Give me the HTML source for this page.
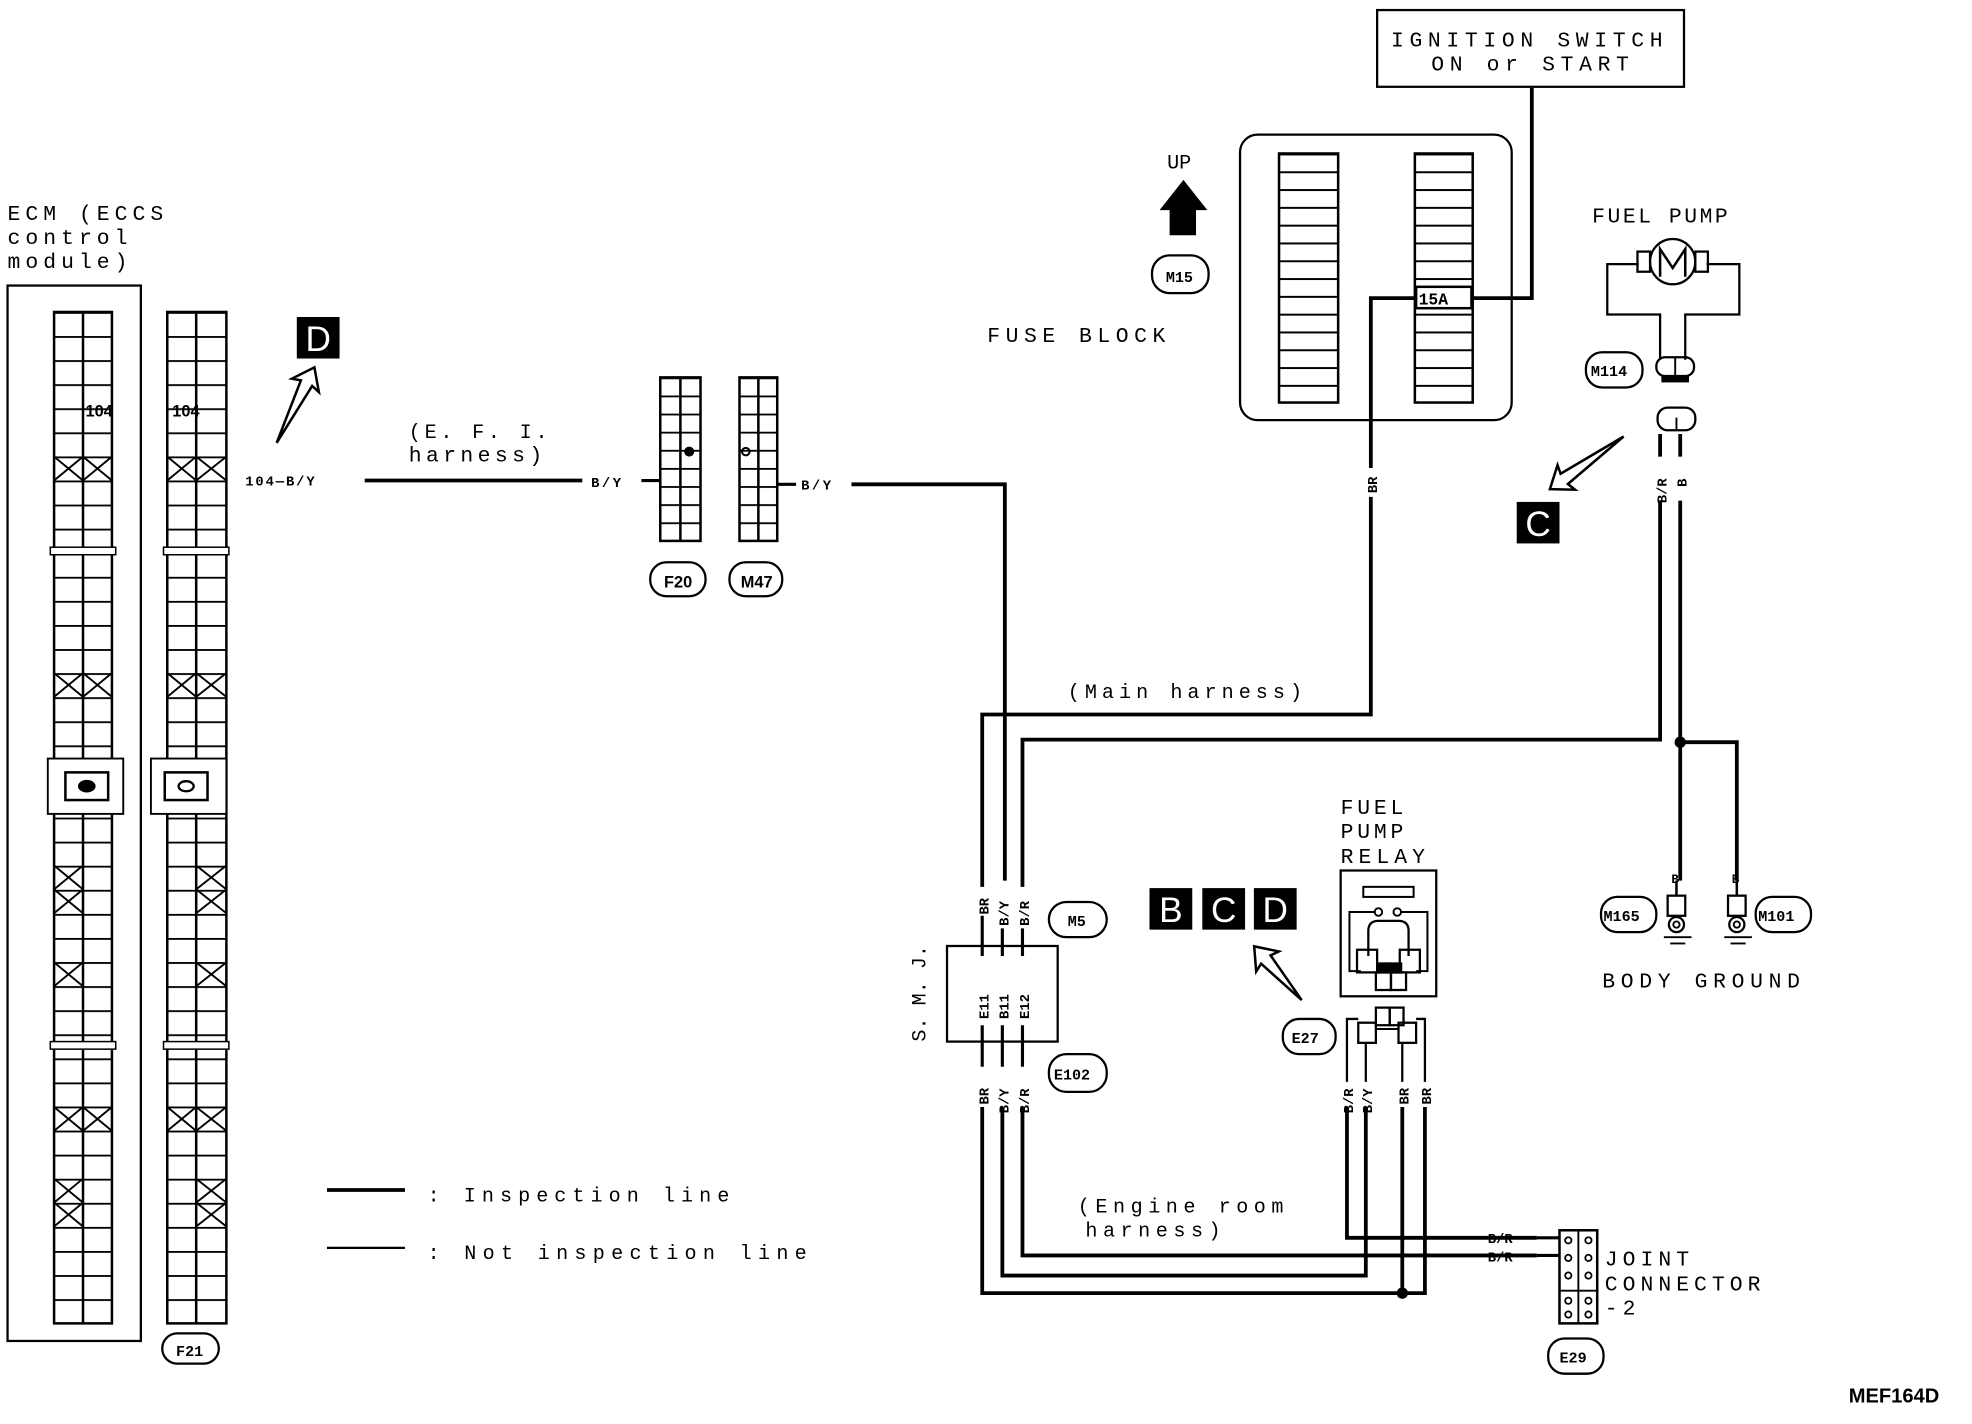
<!DOCTYPE html>
<html><head><meta charset="utf-8"><style>
html,body{margin:0;padding:0;background:#fff;}
svg{display:block;}
text{font-family:"Liberation Mono",monospace;fill:#000;}
</style></head><body>
<svg width="1972" height="1424" viewBox="0 0 1568 1132" preserveAspectRatio="none" xmlns="http://www.w3.org/2000/svg">
<defs>
<pattern id="r1" x="0" y="248" width="200" height="19.14" patternUnits="userSpaceOnUse"><line x1="0" y1="0.7" x2="200" y2="0.7" stroke="#000" stroke-width="1.5"/></pattern>
<pattern id="rf" x="0" y="300" width="100" height="14.4" patternUnits="userSpaceOnUse"><line x1="0" y1="0.7" x2="100" y2="0.7" stroke="#000" stroke-width="1.5"/></pattern>
<pattern id="fz" x="0" y="122" width="100" height="14.15" patternUnits="userSpaceOnUse"><line x1="0" y1="0.8" x2="100" y2="0.8" stroke="#000" stroke-width="1.6"/></pattern>
</defs>
<rect width="1568" height="1132" fill="#fff"/>
<g fill="none" stroke="#000">
<!-- ECM -->
<rect x="6" y="227" width="106" height="839" stroke-width="1.8"/>
<rect x="43" y="248" width="46" height="804" fill="url(#r1)" stroke-width="2"/>
<line x1="66" y1="248" x2="66" y2="1052" stroke-width="2"/>
<rect x="133" y="248" width="47" height="804" fill="url(#r1)" stroke-width="2"/>
<line x1="156" y1="248" x2="156" y2="1052" stroke-width="2"/>
<g stroke-width="1.5">
<path d="M43 363L66 382M66 363L43 382M66 363L89 382M89 363L66 382"/>
<path d="M43 535L66 554M66 535L43 554M66 535L89 554M89 535L66 554"/>
<path d="M43 688L66 707M66 688L43 707M43 707L66 726M66 707L43 726"/>
<path d="M43 765L66 784M66 765L43 784"/>
<path d="M43 880L66 899M66 880L43 899M66 880L89 899M89 880L66 899"/>
<path d="M43 937L66 956M66 937L43 956M43 956L66 975M66 956L43 975"/>
<path d="M133 363L156 382M156 363L133 382M156 363L180 382M180 363L156 382"/>
<path d="M133 535L156 554M156 535L133 554M156 535L180 554M180 535L156 554"/>
<path d="M156 688L180 707M180 688L156 707M156 707L180 726M180 707L156 726"/>
<path d="M156 765L180 784M180 765L156 784"/>
<path d="M133 880L156 899M156 880L133 899M156 880L180 899M180 880L156 899"/>
<path d="M156 937L180 956M180 937L156 956M156 956L180 975M180 956L156 975"/>
</g>
<rect x="40" y="435" width="52" height="6" fill="#fff" stroke-width="1.2"/>
<rect x="130" y="435" width="52" height="6" fill="#fff" stroke-width="1.2"/>
<rect x="40" y="828" width="52" height="6" fill="#fff" stroke-width="1.2"/>
<rect x="130" y="828" width="52" height="6" fill="#fff" stroke-width="1.2"/>
<rect x="38" y="603" width="60" height="44" fill="#fff" stroke-width="1.5"/>
<rect x="52" y="614" width="34" height="22" stroke-width="2"/>
<rect x="120" y="603" width="60" height="44" fill="#fff" stroke-width="1.5"/>
<rect x="131" y="614" width="34" height="22" stroke-width="2"/>
<ellipse cx="148" cy="625" rx="6" ry="4" stroke-width="1.8"/>
<rect x="129" y="1060" width="45" height="24" rx="12" stroke-width="1.8"/>

<!-- F20 / M47 -->
<rect x="525" y="300" width="32" height="130" fill="url(#rf)" stroke-width="2"/>
<line x1="541" y1="300" x2="541" y2="430" stroke-width="2"/>
<rect x="588" y="300" width="30" height="130" fill="url(#rf)" stroke-width="2"/>
<line x1="603" y1="300" x2="603" y2="430" stroke-width="2"/>
<rect x="517" y="447" width="44" height="27" rx="13" stroke-width="1.8"/>
<rect x="580" y="447" width="42" height="27" rx="13" stroke-width="1.8"/>
<circle cx="593" cy="359" r="3" stroke-width="1.6"/>

<!-- wires thick -->
<g stroke-width="3">
<line x1="290" y1="382" x2="463" y2="382"/>
<polyline points="677,385 799,385 799,700"/>
<polyline points="1218,70 1218,237 1171,237"/>
<polyline points="1125,237 1090,237 1090,372"/>
<polyline points="1090,395 1090,568 781,568 781,705"/>
<polyline points="1320,398 1320,588 813,588 813,705"/>
<polyline points="1336,398 1336,700"/>
<polyline points="1336,590 1381,590 1381,700"/>
<polyline points="781,880 781,1028 1133,1028 1133,880"/>
<polyline points="797,880 797,1014 1086,1014 1086,880"/>
<polyline points="813,880 813,998 1222,998"/>
<polyline points="1071,880 1071,984 1222,984"/>
<line x1="1115" y1="880" x2="1115" y2="1028"/>
<line x1="1320" y1="345" x2="1320" y2="363"/>
<line x1="1336" y1="345" x2="1336" y2="363"/>
<line x1="260" y1="946" x2="322" y2="946"/>
</g>
<line x1="260" y1="992" x2="322" y2="992" stroke-width="1.8"/>
<line x1="510" y1="382" x2="525" y2="382" stroke-width="2.5"/>
<line x1="618" y1="385" x2="633" y2="385" stroke-width="2.5"/>
<!-- SMJ -->
<rect x="753" y="752" width="88" height="76" stroke-width="1.8"/>
<g stroke-width="2.5">
<line x1="781" y1="728" x2="781" y2="760"/><line x1="797" y1="738" x2="797" y2="760"/><line x1="813" y1="738" x2="813" y2="760"/>
<line x1="781" y1="815" x2="781" y2="848"/><line x1="797" y1="815" x2="797" y2="848"/><line x1="813" y1="815" x2="813" y2="848"/>
</g>
<rect x="834" y="717" width="46" height="28" rx="14" stroke-width="1.8"/>
<rect x="834" y="838" width="46" height="30" rx="14" stroke-width="1.8"/>

<!-- Fuse block -->
<rect x="986" y="107" width="216" height="227" rx="14" stroke-width="1.8"/>
<rect x="1017" y="122" width="47" height="198" fill="url(#fz)" stroke-width="2"/>
<rect x="1125" y="122" width="46" height="198" fill="url(#fz)" stroke-width="2"/>
<rect x="1095" y="8" width="244" height="61" stroke-width="1.8"/>
<rect x="916" y="203" width="45" height="30" rx="14" stroke-width="1.8"/>

<!-- fuel pump -->
<path d="M1303 210H1278V250H1320V286" stroke-width="1.8"/>
<path d="M1357 210H1383V250H1340V286" stroke-width="1.8"/>
<rect x="1302" y="200" width="10" height="16" stroke-width="1.8"/>
<rect x="1348" y="200" width="10" height="16" stroke-width="1.8"/>
<circle cx="1330" cy="208" r="18" stroke-width="1.8"/>
<path d="M1320 220V198L1330 213L1340 198V220" stroke-width="2"/>
<rect x="1317" y="284" width="30" height="15" rx="7" stroke-width="1.8"/>
<line x1="1332" y1="284" x2="1332" y2="299" stroke-width="1.5"/>
<rect x="1318" y="324" width="30" height="18" rx="8" stroke-width="1.8"/>
<line x1="1333" y1="332" x2="1333" y2="342" stroke-width="1.5"/>
<rect x="1261" y="280" width="45" height="28" rx="13" stroke-width="1.8"/>

<!-- ground -->
<rect x="1326" y="712" width="14" height="16" stroke-width="1.8"/>
<circle cx="1333" cy="735" r="6" stroke-width="1.8"/><circle cx="1333" cy="735" r="2.5" stroke-width="1.5"/>
<line x1="1333" y1="700" x2="1333" y2="712" stroke-width="2"/>
<line x1="1323" y1="745" x2="1345" y2="745" stroke-width="1.5"/><line x1="1328" y1="750" x2="1340" y2="750" stroke-width="1.5"/>
<rect x="1374" y="712" width="14" height="16" stroke-width="1.8"/>
<circle cx="1381" cy="735" r="6" stroke-width="1.8"/><circle cx="1381" cy="735" r="2.5" stroke-width="1.5"/>
<line x1="1381" y1="700" x2="1381" y2="712" stroke-width="2"/>
<line x1="1371" y1="745" x2="1393" y2="745" stroke-width="1.5"/><line x1="1376" y1="750" x2="1388" y2="750" stroke-width="1.5"/>
<rect x="1273" y="713" width="44" height="28" rx="13" stroke-width="1.8"/>
<rect x="1396" y="713" width="44" height="28" rx="13" stroke-width="1.8"/>

<!-- relay -->
<rect x="1066" y="692" width="76" height="100" stroke-width="1.8"/>
<rect x="1084" y="705" width="40" height="8" stroke-width="1.6"/>
<path d="M1094 725H1073V772H1082 M1114 725H1135V772H1126" stroke-width="1.6"/>
<circle cx="1096" cy="725" r="3" stroke-width="1.5"/><circle cx="1111" cy="725" r="3" stroke-width="1.5"/>
<path d="M1088 760V740Q1088 732 1096 732H1112Q1120 732 1120 740V760" stroke-width="1.8"/>
<rect x="1079" y="755" width="16" height="18" stroke-width="1.8"/>
<rect x="1113" y="755" width="16" height="18" stroke-width="1.8"/>
<rect x="1094" y="773" width="12" height="14" stroke-width="1.8"/><rect x="1106" y="773" width="12" height="14" stroke-width="1.8"/>
<path d="M1071 860V810H1080 M1133 860V810H1126 M1086 860V829 M1115 860V829" stroke-width="1.8"/>
<rect x="1094" y="801" width="11" height="14" stroke-width="1.8"/><rect x="1105" y="801" width="11" height="14" stroke-width="1.8"/>
<rect x="1080" y="813" width="14" height="16" stroke-width="1.8"/><rect x="1112" y="813" width="14" height="16" stroke-width="1.8"/>
<path d="M1094 818H1112" stroke-width="1.6"/>
<rect x="1020" y="810" width="42" height="28" rx="13" stroke-width="1.8"/>

<!-- joint connector -->
<rect x="1240" y="978" width="30" height="74" stroke-width="2"/>
<line x1="1255" y1="978" x2="1255" y2="1052" stroke-width="1.5"/>
<line x1="1240" y1="1026" x2="1270" y2="1026" stroke-width="1.5"/>
<g stroke-width="1.4">
<circle cx="1247" cy="986" r="2.5"/><circle cx="1263" cy="986" r="2.5"/>
<circle cx="1247" cy="1000" r="2.5"/><circle cx="1263" cy="1000" r="2.5"/>
<circle cx="1247" cy="1014" r="2.5"/><circle cx="1263" cy="1014" r="2.5"/>
<circle cx="1247" cy="1034" r="2.5"/><circle cx="1263" cy="1034" r="2.5"/>
<circle cx="1247" cy="1045" r="2.5"/><circle cx="1263" cy="1045" r="2.5"/>
</g>
<rect x="1231" y="1064" width="44" height="28" rx="13" stroke-width="1.8"/>
<g stroke-width="2.5"><line x1="1222" y1="984" x2="1240" y2="984"/><line x1="1222" y1="998" x2="1240" y2="998"/></g>

<!-- hollow arrows -->
<path d="M0 0L53 -5L51 -12L67 0L51 12L53 5Z" stroke-width="2" transform="translate(220,352) rotate(-63.4)"/>
<path d="M0 0L58 -5L56 -12L72 0L56 12L58 5Z" stroke-width="2" transform="translate(1291,347) rotate(144.5)"/>
<path d="M0 0L43 -5L41 -12L57 0L41 12L43 5Z" stroke-width="2" transform="translate(1035,795) rotate(-131.5)"/>
</g>

<!-- fills -->
<circle cx="548" cy="359" r="4" fill="#000"/>
<ellipse cx="69" cy="625" rx="7" ry="5" fill="#000"/>
<rect x="1321" y="298" width="22" height="6" fill="#000"/>
<rect x="1095" y="765" width="20" height="9" fill="#000"/>
<circle cx="1336" cy="590" r="4.5" fill="#000"/>
<circle cx="1115" cy="1028" r="4.5" fill="#000"/>
<path d="M941 143L960 167H951V187H930V167H922Z" fill="#000"/>
<rect x="1126" y="228" width="44" height="17" fill="#fff" stroke="#000" stroke-width="2"/>

<!-- black badge letters -->
<rect x="236" y="252" width="34" height="33" fill="#000"/>
<text x="253" y="279" font-size="28" text-anchor="middle" style="fill:#fff;font-family:'Liberation Sans',sans-serif">D</text>
<rect x="1206" y="399" width="34" height="33" fill="#000"/>
<text x="1223" y="426" font-size="28" text-anchor="middle" style="fill:#fff;font-family:'Liberation Sans',sans-serif">C</text>
<rect x="914" y="706" width="34" height="33" fill="#000"/><text x="931" y="733" font-size="28" text-anchor="middle" style="fill:#fff;font-family:'Liberation Sans',sans-serif">B</text>
<rect x="956" y="706" width="34" height="33" fill="#000"/><text x="973" y="733" font-size="28" text-anchor="middle" style="fill:#fff;font-family:'Liberation Sans',sans-serif">C</text>
<rect x="997" y="706" width="34" height="33" fill="#000"/><text x="1014" y="733" font-size="28" text-anchor="middle" style="fill:#fff;font-family:'Liberation Sans',sans-serif">D</text>

<!-- texts -->
<g font-size="17">
<text x="6" y="175" letter-spacing="4">ECM (ECCS</text>
<text x="6" y="194" letter-spacing="4">control</text>
<text x="6" y="213" letter-spacing="4">module)</text>
<text x="325" y="348" font-size="16" letter-spacing="3">(E. F. I.</text>
<text x="325" y="367" letter-spacing="3.5">harness)</text>
<text x="785" y="272" letter-spacing="4.4">FUSE BLOCK</text>
<text x="928" y="134" font-size="16">UP</text>
<text x="1106" y="37" letter-spacing="4.5">IGNITION SWITCH</text>
<text x="1138" y="56" letter-spacing="4.5">ON or START</text>
<text x="1266" y="177" letter-spacing="2">FUEL PUMP</text>
<text x="849" y="555" font-size="16" letter-spacing="4">(Main harness)</text>
<text x="1066" y="647" letter-spacing="3">FUEL</text>
<text x="1066" y="666" letter-spacing="3">PUMP</text>
<text x="1066" y="686" letter-spacing="4">RELAY</text>
<text x="1274" y="785" letter-spacing="4.5">BODY GROUND</text>
<text x="857" y="964" font-size="16" letter-spacing="4.4">(Engine room</text>
<text x="863" y="983" font-size="16" letter-spacing="4.4">harness)</text>
<text x="1276" y="1006" letter-spacing="4">JOINT</text>
<text x="1276" y="1026" letter-spacing="4">CONNECTOR</text>
<text x="1276" y="1045" letter-spacing="4">-2</text>
<text x="340" y="955" font-size="16" letter-spacing="4.8">: Inspection line</text>
<text x="340" y="1001" font-size="16" letter-spacing="5">: Not inspection line</text>
<text x="1470" y="1115" font-size="16" font-weight="bold" style="font-family:'Liberation Sans',sans-serif">MEF164D</text>
</g>
<g font-size="11" font-weight="bold">
<text x="195" y="386" letter-spacing="1.5">104—B/Y</text>
<text x="470" y="387" letter-spacing="2">B/Y</text>
<text x="637" y="389" letter-spacing="2">B/Y</text>
<text x="1183" y="988">B/R</text>
<text x="1183" y="1003">B/R</text>
<text x="68" y="331" font-size="13" style="font-family:'Liberation Sans Narrow','Liberation Sans',sans-serif">104</text>
<text x="137" y="331" font-size="13" style="font-family:'Liberation Sans Narrow','Liberation Sans',sans-serif">104</text>
<text x="1128" y="242" font-size="13">15A</text>
<text x="528" y="467" font-size="13" style="font-family:'Liberation Sans Narrow','Liberation Sans',sans-serif">F20</text>
<text x="589" y="467" font-size="13" style="font-family:'Liberation Sans Narrow','Liberation Sans',sans-serif">M47</text>
<text x="140" y="1078" font-size="12">F21</text>
<text x="927" y="224" font-size="12">M15</text>
<text x="1265" y="299" font-size="12">M114</text>
<text x="1275" y="732" font-size="12">M165</text>
<text x="1398" y="732" font-size="12">M101</text>
<text x="849" y="736" font-size="12">M5</text>
<text x="838" y="858" font-size="12">E102</text>
<text x="1027" y="829" font-size="12">E27</text>
<text x="1240" y="1083" font-size="12">E29</text>
<text x="1329" y="702" font-size="10">B</text>
<text x="1377" y="702" font-size="10">B</text>
</g>
<g font-size="11" font-weight="bold">
<text transform="translate(1095,392) rotate(-90)">BR</text>
<text transform="translate(1325,400) rotate(-90)">B/R</text>
<text transform="translate(1341,387) rotate(-90)">B</text>
<text transform="translate(786,727) rotate(-90)">BR</text>
<text transform="translate(802,736) rotate(-90)">B/Y</text>
<text transform="translate(818,736) rotate(-90)">B/R</text>
<text transform="translate(786,810) rotate(-90)">E11</text>
<text transform="translate(802,810) rotate(-90)">B11</text>
<text transform="translate(818,810) rotate(-90)">E12</text>
<text transform="translate(786,878) rotate(-90)">BR</text>
<text transform="translate(802,885) rotate(-90)">B/Y</text>
<text transform="translate(818,885) rotate(-90)">B/R</text>
<text transform="translate(1076,885) rotate(-90)">B/R</text>
<text transform="translate(1091,885) rotate(-90)">B/Y</text>
<text transform="translate(1120,878) rotate(-90)">BR</text>
<text transform="translate(1138,878) rotate(-90)">BR</text>
<text transform="translate(736,828) rotate(-90)" font-size="16" font-weight="normal">S. M. J.</text>
</g>
</svg>
</body></html>
